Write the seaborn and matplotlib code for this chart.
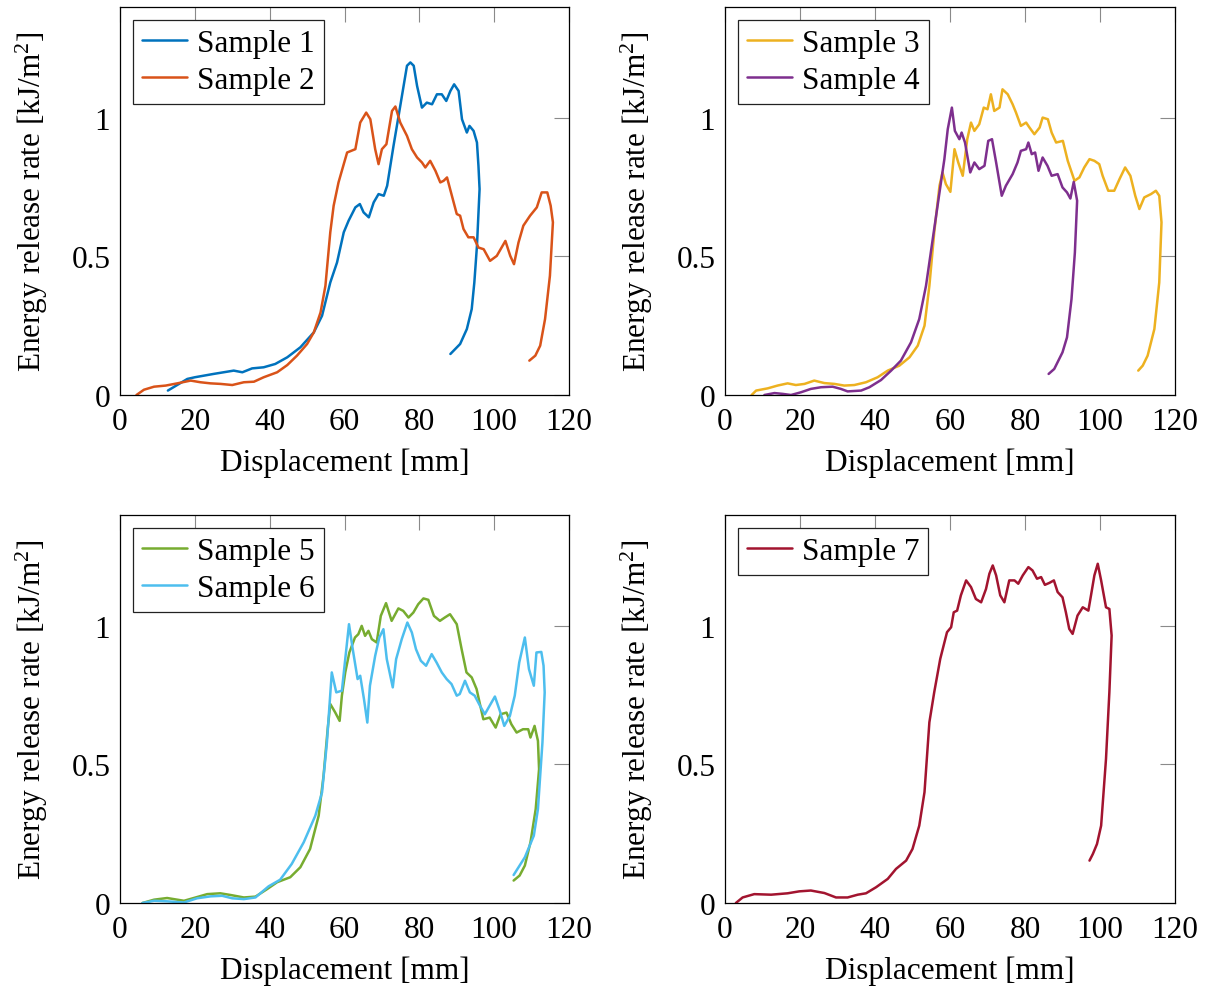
import matplotlib
matplotlib.use("Agg")
import matplotlib.pyplot as plt
import seaborn as sns
import pandas as pd

# ---------------- data ----------------
s1_x = [12.8, 18, 20, 25, 30.4, 32.7, 35.3, 38.4, 41.5, 44.7, 48.2, 51.8, 54, 56.2, 58, 59.8, 61.1, 62.9,
        64.1, 65.1, 66.5, 67.8, 69.1, 70.5, 71.4, 73.1, 74.9, 76.7, 77.6, 78.5, 79.4, 80.7, 82, 83.4, 84.7,
        86, 87.2, 88.3, 89.3, 90.5, 91.4, 92.7, 93.4, 94.5, 95.4, 95.8, 96.1, 95.4, 94.7, 94, 92.7, 90.9, 88.3]
s1_y = [0.016, 0.058, 0.064, 0.076, 0.088, 0.082, 0.096, 0.1, 0.112, 0.136, 0.172, 0.226, 0.286, 0.406,
        0.478, 0.587, 0.629, 0.677, 0.689, 0.659, 0.641, 0.695, 0.725, 0.719, 0.755, 0.899, 1.043, 1.188,
        1.2, 1.188, 1.115, 1.037, 1.055, 1.049, 1.085, 1.085, 1.061, 1.097, 1.121, 1.097, 0.995, 0.947,
        0.971, 0.953, 0.911, 0.827, 0.743, 0.538, 0.406, 0.31, 0.238, 0.184, 0.148]

s2_x = [4.4, 6.4, 9.1, 12.2, 15.3, 18.9, 21.5, 24.2, 26.9, 30, 33.1, 35.8, 38.4, 42, 44.7, 47.3, 50, 51.8,
        53.6, 54.9, 56.2, 57.1, 58.4, 59.8, 60.7, 62.9, 64.2, 65.8, 66.9, 68.2, 69.1, 70, 71.2, 72.7, 73.6,
        74.9, 76.7, 78, 79.4, 80.7, 81.6, 82.9, 84.3, 85.6, 86.5, 87.4, 88.7, 90, 90.9, 91.8, 93.1, 94.5,
        95.8, 97.2, 98.9, 100.7, 103, 104.3, 105.3, 106.5, 107.8, 109.6, 111.4, 112.7, 114.2, 115.1, 115.7,
        114.9, 113.6, 112.3, 111, 109.4]
s2_y = [0.0, 0.019, 0.03, 0.034, 0.042, 0.052, 0.046, 0.042, 0.04, 0.036, 0.046, 0.048, 0.064, 0.082,
        0.108, 0.142, 0.184, 0.226, 0.298, 0.394, 0.587, 0.683, 0.767, 0.833, 0.875, 0.887, 0.983, 1.019,
        0.995, 0.887, 0.833, 0.887, 0.905, 1.025, 1.041, 0.983, 0.935, 0.887, 0.857, 0.839, 0.821, 0.845,
        0.809, 0.767, 0.773, 0.785, 0.719, 0.653, 0.647, 0.599, 0.569, 0.569, 0.532, 0.526, 0.484, 0.502,
        0.556, 0.502, 0.472, 0.55, 0.611, 0.647, 0.677, 0.731, 0.731, 0.683, 0.623, 0.43, 0.274, 0.178,
        0.142, 0.124]

s3_x = [7.1, 8.3, 11.4, 14, 16.7, 18.9, 21.2, 23.8, 26.5, 29.2, 31.8, 34.5, 37.6, 40.7, 43.4, 46.5, 49.2,
        51.4, 53.2, 54.5, 55.8, 57.2, 58, 58.9, 60.1, 61.2, 62.2, 63.4, 64.6, 65.6, 66.5, 67.8, 69, 70,
        70.9, 71.8, 73.2, 74, 75.4, 76.7, 77.6, 78.9, 80.3, 81.2, 82.5, 83.9, 84.7, 86.1, 87.1, 88.3, 90.1,
        91.4, 93.2, 94.5, 95.8, 97.2, 98.5, 99.8, 100.7, 102.2, 103.8, 105.2, 106.7, 108.1, 109.4, 110.5,
        111.8, 113.6, 114.9, 115.8, 116.4, 115.8, 114.5, 112.7, 111.4, 110.2]
s3_y = [0.0, 0.016, 0.024, 0.034, 0.042, 0.036, 0.04, 0.052, 0.043, 0.04, 0.034, 0.036, 0.046, 0.064,
        0.088, 0.106, 0.136, 0.178, 0.25, 0.394, 0.587, 0.755, 0.803, 0.761, 0.733, 0.887, 0.839, 0.791,
        0.923, 0.983, 0.953, 0.977, 1.037, 1.031, 1.085, 1.025, 1.037, 1.103, 1.085, 1.049, 1.019, 0.971,
        0.983, 0.965, 0.941, 0.965, 1.001, 0.995, 0.947, 0.911, 0.917, 0.845, 0.773, 0.785, 0.821, 0.851,
        0.845, 0.833, 0.791, 0.737, 0.737, 0.779, 0.821, 0.791, 0.719, 0.671, 0.713, 0.725, 0.737, 0.719,
        0.623, 0.406, 0.238, 0.142, 0.106, 0.088]

s4_x = [10.5, 13.2, 15.4, 17.6, 20.3, 22.9, 25.6, 28.7, 30.9, 32.7, 36.3, 38.5, 41.6, 44.3, 46.9, 49.6,
        51.8, 53.6, 55.4, 57.2, 58.5, 59.4, 60.5, 61.3, 62.5, 63.1, 64, 65.4, 66.5, 67.8, 69.2, 70.2, 71.2,
        72.3, 73.8, 74.9, 76.7, 78, 78.9, 80.3, 80.9, 81.8, 82.7, 83.6, 84.7, 86, 87.1, 88.7, 90, 91.2,
        92.1, 93, 93.9, 93.3, 92.4, 91.2, 90, 87.8, 86.3]
s4_y = [0.0, 0.007, 0.004, 0.0, 0.01, 0.022, 0.028, 0.03, 0.022, 0.013, 0.016, 0.028, 0.054, 0.088, 0.124,
        0.19, 0.274, 0.394, 0.563, 0.731, 0.851, 0.959, 1.037, 0.953, 0.923, 0.947, 0.911, 0.803, 0.839,
        0.815, 0.827, 0.917, 0.923, 0.839, 0.719, 0.755, 0.797, 0.839, 0.881, 0.887, 0.911, 0.869, 0.875,
        0.809, 0.857, 0.827, 0.791, 0.797, 0.749, 0.731, 0.709, 0.769, 0.701, 0.514, 0.346, 0.208, 0.154,
        0.094, 0.076]

s5_x = [6, 9.1, 12.6, 17.1, 19.7, 23.3, 26.8, 29.5, 33.1, 36.2, 39.3, 42, 45.5, 48.2, 50.8, 53.1, 54.4,
        55.5, 56.2, 57.5, 58.7, 59.3, 60.2, 61.3, 62.8, 63.7, 64.6, 65.5, 66.4, 67.3, 68.6, 69.7, 71.1,
        72.6, 74.4, 75.7, 77.1, 78.4, 79.7, 81.1, 82.4, 83.9, 85.5, 86.8, 88.2, 90, 91.3, 92.6, 94, 95.3,
        97.1, 98.8, 100.4, 101.7, 103.3, 104.6, 106, 107.7, 109.1, 109.7, 110.8, 111.7, 112, 111.1, 109.7,
        108.2, 106.8, 105.2]
s5_y = [0.0, 0.012, 0.018, 0.008, 0.018, 0.032, 0.035, 0.029, 0.02, 0.023, 0.05, 0.075, 0.093, 0.129,
        0.195, 0.315, 0.459, 0.627, 0.718, 0.688, 0.657, 0.748, 0.832, 0.904, 0.958, 0.97, 1.0, 0.964,
        0.982, 0.952, 0.94, 1.036, 1.082, 1.018, 1.063, 1.054, 1.03, 1.048, 1.078, 1.099, 1.094, 1.036,
        1.018, 1.03, 1.042, 1.006, 0.916, 0.832, 0.814, 0.772, 0.663, 0.669, 0.633, 0.681, 0.687, 0.645,
        0.615, 0.627, 0.627, 0.597, 0.639, 0.585, 0.483, 0.339, 0.219, 0.135, 0.099, 0.081]

s6_x = [6, 9.1, 12.6, 17.1, 20.6, 24.2, 27.3, 30, 33.1, 36.2, 39.7, 42.8, 45.9, 49.1, 52.2, 54, 55.3, 56.6,
        57.8, 59.3, 60.2, 61.2, 62.2, 63.5, 64.2, 65.2, 66.1, 66.8, 68.2, 69.3, 70.4, 71.3, 72.9, 73.8,
        75.3, 76.8, 78, 79.1, 80.4, 81.8, 83.3, 84.6, 86, 87.3, 88.6, 90, 90.8, 92.2, 93.5, 94.8, 96.2,
        97.5, 98.8, 100.2, 101.5, 102.7, 104.2, 105.5, 106.7, 108.2, 109.3, 110.6, 111.3, 112.6, 113.2,
        113.5, 112.9, 111.7, 110.6, 108.2, 105.2]
s6_y = [0.0, 0.008, 0.006, 0.002, 0.017, 0.024, 0.026, 0.017, 0.014, 0.02, 0.06, 0.084, 0.141, 0.219,
        0.315, 0.399, 0.579, 0.832, 0.76, 0.766, 0.88, 1.006, 0.916, 0.808, 0.82, 0.736, 0.651, 0.784,
        0.892, 0.958, 0.988, 0.88, 0.778, 0.88, 0.952, 1.012, 0.976, 0.916, 0.874, 0.856, 0.898, 0.868,
        0.832, 0.808, 0.79, 0.748, 0.754, 0.802, 0.76, 0.748, 0.712, 0.681, 0.712, 0.745, 0.694, 0.639,
        0.675, 0.748, 0.868, 0.958, 0.844, 0.784, 0.904, 0.906, 0.856, 0.76, 0.579, 0.339, 0.243, 0.165,
        0.101]

s7_x = [2.9, 4.7, 7.8, 12.3, 16.7, 19.8, 22.9, 26.5, 29.6, 32.7, 35.4, 37.6, 40.3, 43.4, 45.6, 48.3, 50,
        51.8, 53.2, 54.5, 55.8, 57.4, 59.2, 60.3, 61, 61.9, 62.9, 64.3, 65.6, 66.9, 68.3, 69.6, 70.5, 71.4,
        72.3, 73.4, 74.5, 75.8, 77.2, 78.2, 79.4, 80.9, 82, 83.2, 84.3, 85.3, 86.5, 87.7, 88.7, 90, 90.9,
        91.8, 92.7, 94, 95.4, 96.9, 97.6, 98.5, 99.4, 100.3, 101.6, 102.5, 103.1, 102.5, 101.6, 100.3, 99.2,
        98.1, 97.2]
s7_y = [0.0, 0.02, 0.032, 0.03, 0.035, 0.042, 0.045, 0.036, 0.02, 0.02, 0.03, 0.035, 0.057, 0.087, 0.123,
        0.153, 0.195, 0.279, 0.4, 0.652, 0.761, 0.881, 0.977, 0.995, 1.049, 1.055, 1.11, 1.164, 1.14,
        1.097, 1.085, 1.133, 1.188, 1.218, 1.182, 1.11, 1.085, 1.164, 1.164, 1.152, 1.182, 1.212, 1.2,
        1.17, 1.176, 1.148, 1.155, 1.164, 1.122, 1.103, 1.049, 0.989, 0.971, 1.037, 1.067, 1.055, 1.11,
        1.182, 1.224, 1.164, 1.067, 1.061, 0.965, 0.761, 0.52, 0.279, 0.213, 0.177, 0.153]

labels = ["Sample 1", "Sample 2", "Sample 3", "Sample 4", "Sample 5", "Sample 6", "Sample 7"]
xs = [s1_x, s2_x, s3_x, s4_x, s5_x, s6_x, s7_x]
ys = [s1_y, s2_y, s3_y, s4_y, s5_y, s6_y, s7_y]
colors = ["#0072BD", "#D95319", "#EDB120", "#7E2F8E", "#77AC30", "#4DBEEE", "#A2142F"]
groups = [[0, 1], [2, 3], [4, 5], [6]]

x_ticks = [0, 20, 40, 60, 80, 100, 120]
y_ticks = [0, 0.5, 1]
y_ticklabels = ["0", "0.5", "1"]

# ---------------- style ----------------
sns.set_theme(style="white")
plt.rcParams["font.family"] = ["Liberation Serif", "DejaVu Serif"]
plt.rcParams["mathtext.fontset"] = "custom"
plt.rcParams["mathtext.rm"] = "Liberation Serif"
plt.rcParams["mathtext.it"] = "Liberation Serif:italic"
plt.rcParams["text.color"] = "black"
plt.rcParams["axes.labelcolor"] = "black"
FS = 22.5

fig = plt.figure(figsize=(12.09, 9.87), dpi=100)
W, H = 1209, 987
boxes = [(120, 8, 569, 396), (725, 8, 1175, 396), (120, 516, 569, 904), (725, 516, 1175, 904)]

for (l, t, r, b), grp in zip(boxes, groups):
    ax = fig.add_axes([l / W, 1 - b / H, (r - l) / W, (b - t) / H])
    for i in grp:
        df = pd.DataFrame({"x": xs[i], "y": ys[i]})
        sns.lineplot(data=df, x="x", y="y", sort=False, estimator=None, ax=ax,
                     color=colors[i], linewidth=1.8, label=labels[i])
    ax.set_xlim(0, 120)
    ax.set_ylim(0, 1.4)
    ax.set_xticks(x_ticks)
    ax.set_xticklabels([str(v) for v in x_ticks])
    ax.set_yticks(y_ticks)
    ax.set_yticklabels(y_ticklabels)
    ax.tick_params(axis="x", which="major", pad=9)
    ax.tick_params(axis="y", which="major", pad=7)
    ax.tick_params(axis="both", which="major", direction="in", length=11, width=0.8,
                   color="#8a8a8a", labelsize=FS, labelcolor="black",
                   top=True, right=True)
    for sp in ax.spines.values():
        sp.set_visible(True)
        sp.set_color("black")
        sp.set_linewidth(0.9)
    ax.set_xlabel("Displacement [mm]", fontsize=FS, color="black", labelpad=8)
    ax.set_ylabel("Energy release rate [kJ/m$^2$]", fontsize=FS, color="black", labelpad=15)
    leg = ax.legend(loc="upper left", fontsize=FS, frameon=True, fancybox=False,
                    handlelength=1.45, handletextpad=0.3, borderpad=0.3,
                    labelspacing=0.25, borderaxespad=0.4)
    leg.get_frame().set_edgecolor("#222222")
    leg.get_frame().set_linewidth(0.9)
    leg.get_frame().set_alpha(1.0)
    for txt in leg.get_texts():
        txt.set_color("black")

fig.savefig("out.png", dpi=100)
